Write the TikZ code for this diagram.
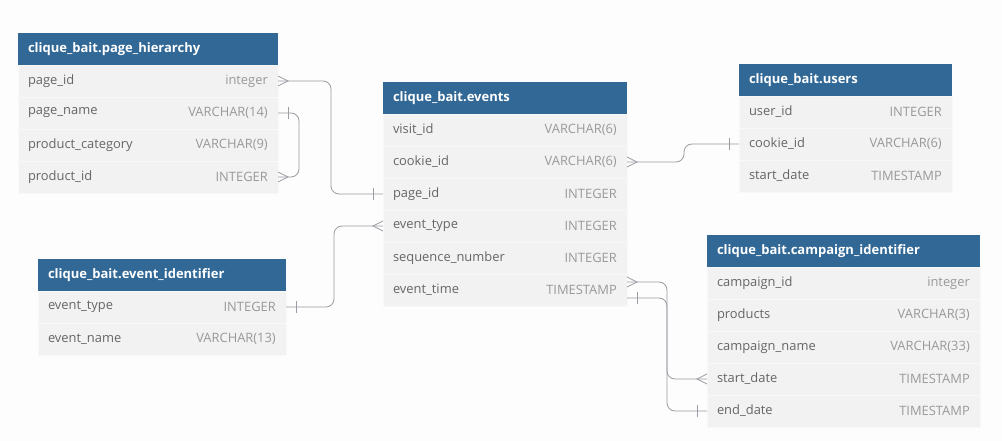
\documentclass[tikz,border=0pt]{standalone}
\usepackage{fontspec}
\setmainfont{Open Sans}
\definecolor{hdrblue}{HTML}{316896}
\definecolor{rowgray}{HTML}{F2F2F2}
\definecolor{rowline}{HTML}{F8F8F8}
\definecolor{fieldgray}{HTML}{666666}
\definecolor{typegray}{HTML}{999999}
\definecolor{linegray}{HTML}{9C9CA4}
\definecolor{bgwhite}{HTML}{FDFDFD}
\begin{document}
\begin{tikzpicture}[x=1pt, y=-1pt,
  hdr/.style={fill=hdrblue, text=white, font=\bfseries\fontsize{13}{15}\selectfont, anchor=north west, minimum height=32pt, inner xsep=10pt, inner ysep=0pt, outer sep=0pt, align=left},
  fld/.style={fill=rowgray, draw=rowline, line width=.6pt, text=fieldgray, font=\fontsize{12.9}{15}\selectfont, anchor=north west, minimum height=32pt, inner xsep=10pt, inner ysep=0pt, outer sep=0pt, align=left},
  typ/.style={text=typegray, font=\fontsize{12.9}{15}\selectfont, anchor=east, inner sep=0pt},
  conn/.style={draw=linegray, line width=.8pt, rounded corners=8pt},
  erline/.style={draw=linegray, line width=.8pt},
  crowfoot/.pic={\draw[erline] (0,-5) -- (10,0) -- (0,5);},
  onebar/.pic={\draw[erline] (10,-6) -- (10,6);}]
\fill[bgwhite] (0,0) rectangle (1002,441);
\useasboundingbox (0,0) rectangle (1002,441);

% clique_bait.page_hierarchy
\node[hdr, text width=240pt] (ph) at (18,33) {clique\_bait.page\_hierarchy};
\node[fld, text width=240pt] (ph-pageid) at (ph.south west) {page\_id};
\node[typ] (ph-pageid-t) at ([xshift=-10pt]ph-pageid.east) {integer};
\node[fld, text width=240pt] (ph-pagename) at (ph-pageid.south west) {page\_name};
\node[typ] (ph-pagename-t) at ([xshift=-10pt]ph-pagename.east) {VARCHAR(14)};
\node[fld, text width=240pt] (ph-prodcat) at (ph-pagename.south west) {product\_category};
\node[typ] (ph-prodcat-t) at ([xshift=-10pt]ph-prodcat.east) {VARCHAR(9)};
\node[fld, text width=240pt] (ph-productid) at (ph-prodcat.south west) {product\_id};
\node[typ] (ph-productid-t) at ([xshift=-10pt]ph-productid.east) {INTEGER};

% clique_bait.events
\node[hdr, text width=224pt] (ev) at (383,82) {clique\_bait.events};
\node[fld, text width=224pt] (ev-visitid) at (ev.south west) {visit\_id};
\node[typ] (ev-visitid-t) at ([xshift=-10pt]ev-visitid.east) {VARCHAR(6)};
\node[fld, text width=224pt] (ev-cookieid) at (ev-visitid.south west) {cookie\_id};
\node[typ] (ev-cookieid-t) at ([xshift=-10pt]ev-cookieid.east) {VARCHAR(6)};
\node[fld, text width=224pt] (ev-pageid) at (ev-cookieid.south west) {page\_id};
\node[typ] (ev-pageid-t) at ([xshift=-10pt]ev-pageid.east) {INTEGER};
\node[fld, text width=224pt] (ev-eventtype) at (ev-pageid.south west) {event\_type};
\node[typ] (ev-eventtype-t) at ([xshift=-10pt]ev-eventtype.east) {INTEGER};
\node[fld, text width=224pt] (ev-seqnum) at (ev-eventtype.south west) {sequence\_number};
\node[typ] (ev-seqnum-t) at ([xshift=-10pt]ev-seqnum.east) {INTEGER};
\node[fld, text width=224pt] (ev-eventtime) at (ev-seqnum.south west) {event\_time};
\node[typ] (ev-eventtime-t) at ([xshift=-10pt]ev-eventtime.east) {TIMESTAMP};

% clique_bait.users
\node[hdr, text width=193pt] (us) at (739,64) {clique\_bait.users};
\node[fld, text width=193pt] (us-userid) at (us.south west) {user\_id};
\node[typ] (us-userid-t) at ([xshift=-10pt]us-userid.east) {INTEGER};
\node[fld, text width=193pt] (us-cookieid) at (us-userid.south west) {cookie\_id};
\node[typ] (us-cookieid-t) at ([xshift=-10pt]us-cookieid.east) {VARCHAR(6)};
\node[fld, text width=193pt] (us-startdate) at (us-cookieid.south west) {start\_date};
\node[typ] (us-startdate-t) at ([xshift=-10pt]us-startdate.east) {TIMESTAMP};

% clique_bait.event_identifier
\node[hdr, text width=228pt] (ei) at (38,259) {clique\_bait.event\_identifier};
\node[fld, text width=228pt] (ei-eventtype) at (ei.south west) {event\_type};
\node[typ] (ei-eventtype-t) at ([xshift=-10pt]ei-eventtype.east) {INTEGER};
\node[fld, text width=228pt] (ei-eventname) at (ei-eventtype.south west) {event\_name};
\node[typ] (ei-eventname-t) at ([xshift=-10pt]ei-eventname.east) {VARCHAR(13)};

% clique_bait.campaign_identifier
\node[hdr, text width=253pt] (ca) at (707,235) {clique\_bait.campaign\_identifier};
\node[fld, text width=253pt] (ca-campid) at (ca.south west) {campaign\_id};
\node[typ] (ca-campid-t) at ([xshift=-10pt]ca-campid.east) {integer};
\node[fld, text width=253pt] (ca-products) at (ca-campid.south west) {products};
\node[typ] (ca-products-t) at ([xshift=-10pt]ca-products.east) {VARCHAR(3)};
\node[fld, text width=253pt] (ca-campname) at (ca-products.south west) {campaign\_name};
\node[typ] (ca-campname-t) at ([xshift=-10pt]ca-campname.east) {VARCHAR(33)};
\node[fld, text width=253pt] (ca-startdate) at (ca-campname.south west) {start\_date};
\node[typ] (ca-startdate-t) at ([xshift=-10pt]ca-startdate.east) {TIMESTAMP};
\node[fld, text width=253pt] (ca-enddate) at (ca-startdate.south west) {end\_date};
\node[typ] (ca-enddate-t) at ([xshift=-10pt]ca-enddate.east) {TIMESTAMP};

% relations
\draw[conn] (ph-pageid.east) -- ++(53,0) |- (ev-pageid.west);
\pic at (ph-pageid.east) {crowfoot};
\pic[xscale=-1] at (ev-pageid.west) {onebar};

\draw[conn] (ph-pagename.east) -- ++(21,0) |- (ph-productid.east);
\pic at (ph-pagename.east) {onebar};
\pic at (ph-productid.east) {crowfoot};

\draw[conn] (ev-cookieid.east) -- ++(57,0) |- (us-cookieid.west);
\pic at (ev-cookieid.east) {crowfoot};
\pic[xscale=-1] at (us-cookieid.west) {onebar};

\draw[conn] (ei-eventtype.east) -- ++(48,0) |- (ev-eventtype.west);
\pic at (ei-eventtype.east) {onebar};
\pic[xscale=-1] at (ev-eventtype.west) {crowfoot};

\draw[conn] ([yshift=8pt]ev-eventtime.east) -- ++(40,0) |- (ca-startdate.west);
\pic at ([yshift=8pt]ev-eventtime.east) {crowfoot};
\pic[xscale=-1] at (ca-startdate.west) {crowfoot};

\draw[conn] ([yshift=-8pt]ev-eventtime.east) -- ++(40,0) |- (ca-enddate.west);
\pic at ([yshift=-8pt]ev-eventtime.east) {onebar};
\pic[xscale=-1] at (ca-enddate.west) {onebar};

\end{tikzpicture}
\end{document}
